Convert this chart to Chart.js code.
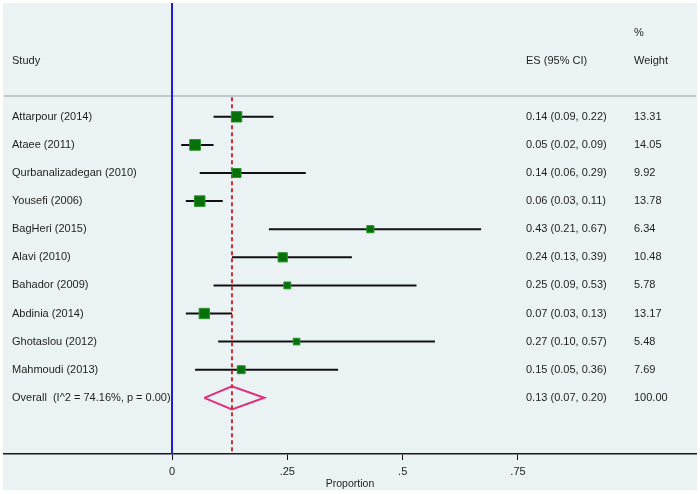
<!DOCTYPE html>
<html>
<head>
<meta charset="utf-8">
<script src="https://cdn.jsdelivr.net/npm/chart.js@4/dist/chart.umd.min.js"></script>
<style>
html,body{margin:0;padding:0;background:#fff;}
#wrap{width:700px;height:494px;}
</style>
</head>
<body>
<div id="wrap"><canvas id="c" width="700" height="494"></canvas></div>
<script>
// ---- data ----
const studies = ["Attarpour (2014)","Ataee (2011)","Qurbanalizadegan (2010)","Yousefi (2006)","BagHeri (2015)","Alavi (2010)","Bahador (2009)","Abdinia (2014)","Ghotaslou (2012)","Mahmoudi (2013)"];
const es      = [0.14,0.05,0.14,0.06,0.43,0.24,0.25,0.07,0.27,0.15];
const ciLow   = [0.09,0.02,0.06,0.03,0.21,0.13,0.09,0.03,0.10,0.05];
const ciHigh  = [0.22,0.09,0.29,0.11,0.67,0.39,0.53,0.13,0.57,0.36];
const weights = [13.31,14.05,9.92,13.78,6.34,10.48,5.78,13.17,5.48,7.69];
const overallLabel = "Overall  (I^2 = 74.16%, p = 0.00)";
const overallES = 0.13, overallLow = 0.07, overallHigh = 0.20, overallWeight = 100.00;
const xTicks = [0, 0.25, 0.5, 0.75];
const xTitle = "Proportion";

// ---- layout (row units) ----
const X_MIN = -0.3642, X_MAX = 1.1359;
const Y_MIN = -3.05, Y_MAX = 13.0;
const rows = studies.map((s,i)=>i+1);
const overallRow = studies.length + 1;
const headerRowTop = -2, headerRow = -1, headerLineRow = 0.26;

const fmt = v => v.toFixed(2);
const FONT = "'Liberation Sans', Arial, Helvetica, sans-serif";
Chart.defaults.font.family = FONT;
Chart.defaults.font.size = 11;
Chart.defaults.color = '#1e1e1e';

const datasets = [];
// study squares
datasets.push({
  type:'scatter', order:0,
  data: es.map((v,i)=>({x:v,y:rows[i]})),
  pointStyle:'rect',
  pointRadius: weights.map(w=>2.85*Math.sqrt(w)/1.414),
  backgroundColor:'#07700a', borderColor:'#2b932b', borderWidth:1
});
// red dashed overall line
datasets.push({
  type:'scatter', order:1, showLine:true, pointRadius:0,
  data:[{x:overallES,y:headerLineRow+0.04},{x:overallES,y:Y_MAX}],
  borderColor:'#cc2f36', borderWidth:2, borderDash:[4,3]
});
// diamond
datasets.push({
  type:'scatter', order:1, showLine:true, pointRadius:0,
  data:[{x:overallLow,y:overallRow},{x:overallES,y:overallRow-0.41},{x:overallHigh,y:overallRow},{x:overallES,y:overallRow+0.41},{x:overallLow,y:overallRow}],
  borderColor:'#dd2f7c', borderWidth:2, fill:false
});
// CI lines
studies.forEach((s,i)=>{
  datasets.push({
    type:'scatter', order:2, showLine:true, pointRadius:0,
    data:[{x:ciLow[i],y:rows[i]},{x:ciHigh[i],y:rows[i]}],
    borderColor:'#111', borderWidth:2
  });
});
// null line at 0
datasets.push({
  type:'scatter', order:3, showLine:true, pointRadius:0,
  data:[{x:0,y:Y_MIN},{x:0,y:Y_MAX}],
  borderColor:'#1f1fd0', borderWidth:2
});
// header separator
datasets.push({
  type:'scatter', order:3, showLine:true, pointRadius:0, clip:false,
  data:[{x:X_MIN,y:headerLineRow},{x:X_MAX,y:headerLineRow}],
  borderColor:'#b5b9bb', borderWidth:1.5
});

const bgPlugin = {
  id:'bg',
  beforeDraw(chart){
    const ctx = chart.ctx;
    ctx.save();
    ctx.fillStyle='#ffffff';
    ctx.fillRect(0,0,chart.width,chart.height);
    ctx.fillStyle='#eaf2f3';
    ctx.fillRect(3,3,chart.width-6,chart.height-7);
    ctx.restore();
  }
};
const textPlugin = {
  id:'tableText',
  afterDatasetsDraw(chart){
    const ctx = chart.ctx, y = chart.scales.y;
    ctx.save();
    ctx.font = '11px ' + FONT;
    ctx.fillStyle = '#1e1e1e';
    ctx.textBaseline = 'middle';
    ctx.textAlign = 'left';
    const cStudy = 12, cES = 526, cW = 634;
    ctx.fillText('Study', cStudy, y.getPixelForValue(headerRow));
    ctx.fillText('ES (95% CI)', cES, y.getPixelForValue(headerRow));
    ctx.fillText('%', cW, y.getPixelForValue(headerRowTop));
    ctx.fillText('Weight', cW, y.getPixelForValue(headerRow));
    studies.forEach((s,i)=>{
      const py = y.getPixelForValue(rows[i]);
      ctx.fillText(s, cStudy, py);
      ctx.fillText(fmt(es[i])+' ('+fmt(ciLow[i])+', '+fmt(ciHigh[i])+')', cES, py);
      ctx.fillText(fmt(weights[i]), cW, py);
    });
    const po = y.getPixelForValue(overallRow);
    ctx.fillText(overallLabel, cStudy, po);
    ctx.fillText(fmt(overallES)+' ('+fmt(overallLow)+', '+fmt(overallHigh)+')', cES, po);
    ctx.fillText(fmt(overallWeight), cW, po);
    ctx.restore();
  }
};

new Chart(document.getElementById('c'), {
  data:{datasets},
  options:{
    responsive:false, animation:false, devicePixelRatio:1,
    layout:{autoPadding:false, padding:{left:4,right:4,top:3,bottom:4}},
    plugins:{legend:{display:false}, tooltip:{enabled:false}},
    events:[],
    scales:{
      x:{
        type:'linear', min:X_MIN, max:X_MAX,
        afterBuildTicks:(s)=>{ s.ticks = xTicks.map(v=>({value:v})); },
        afterFit:(s)=>{ s.height = 36; s.paddingLeft = 0; s.paddingRight = 0; },
        ticks:{ padding:5, color:'#1e1e1e', font:{size:11},
          callback:(v)=> v===0 ? '0' : String(v).replace(/^0/,'') },
        grid:{ display:true, drawOnChartArea:false, drawTicks:true, tickLength:6, color:'#111', lineWidth:1 },
        border:{ display:true, color:'#1a1a1a', width:1.5 },
        title:{ display:true, text:xTitle, font:{size:10.5}, color:'#1e1e1e', padding:{top:0,bottom:0} }
      },
      y:{ type:'linear', display:false, reverse:true, min:Y_MIN, max:Y_MAX }
    }
  },
  plugins:[bgPlugin, textPlugin]
});
</script>
</body>
</html>
